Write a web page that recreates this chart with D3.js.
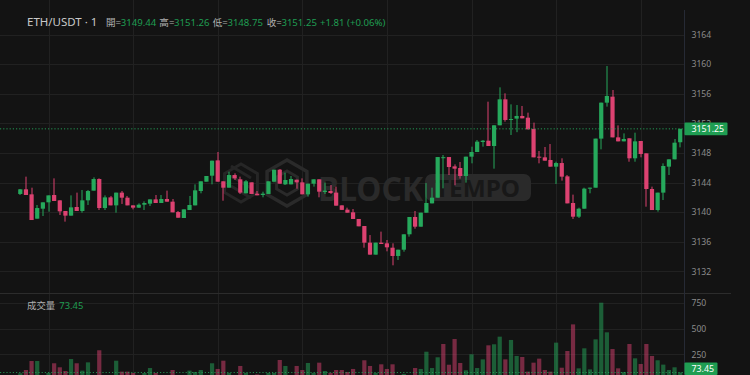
<!DOCTYPE html>
<html>
<head>
<meta charset="utf-8">
<script src="https://cdn.jsdelivr.net/npm/d3@7"></script>
<style>
html, body { margin: 0; padding: 0; background: #131313; }
svg { display: block; font-family: "Noto Sans", "Noto Sans CJK TC", sans-serif; }
</style>
</head>
<body>
<div id="chart"></div>
<script>
"use strict";

// ETH/USDT 1 minute candles
var opens  = [3142.45,3143.08,3142.40,3139.11,3140.46,3141.32,3142.31,3141.59,3140.15,3139.52,
              3140.69,3140.15,3141.59,3142.90,3144.47,3140.55,3141.99,3140.91,3142.63,3141.95,
              3140.91,3140.60,3141.00,3141.14,3141.72,3141.23,3141.77,3141.41,3140.01,3139.20,
              3140.28,3140.91,3142.85,3144.11,3144.92,3146.99,3144.16,3143.30,3145.01,3144.43,
              3142.54,3144.02,3142.49,3142.31,3142.45,3144.11,3145.73,3143.75,3143.75,3144.38,
              3144.02,3142.40,3143.84,3144.43,3142.72,3142.85,3142.63,3140.91,3140.33,3139.97,
              3139.07,3138.12,3135.87,3134.25,3135.87,3135.78,3135.19,3134.07,3134.92,3137.00,
              3139.34,3138.03,3139.92,3141.18,3141.95,3147.36,3147.44,3146.18,3145.96,3144.88,
              3147.49,3148.12,3149.47,3149.65,3148.93,3151.73,3155.24,3152.45,3152.63,3152.99,
              3152.76,3151.23,3147.49,3147.40,3147.04,3146.14,3146.63,3144.83,3141.23,3139.38,
              3140.46,3143.17,3143.30,3149.93,3154.79,3155.60,3150.10,3149.56,3149.97,3147.27,
              3149.61,3147.94,3143.12,3140.28,3142.63,3146.14,3147.13,3149.44];
var highs  = [3143.12,3144.79,3143.30,3140.96,3141.32,3142.26,3144.56,3141.59,3140.15,3142.26,
              3142.63,3142.99,3142.99,3144.70,3144.56,3142.26,3142.18,3142.63,3142.85,3142.18,
              3140.91,3141.18,3141.45,3141.72,3142.31,3142.31,3142.90,3141.77,3140.15,3140.37,
              3142.18,3143.75,3144.16,3144.88,3146.95,3148.12,3144.16,3145.46,3145.24,3144.79,
              3144.34,3144.02,3142.85,3142.76,3144.16,3145.73,3145.82,3145.33,3144.88,3144.38,
              3144.56,3143.84,3144.43,3144.43,3143.98,3143.66,3143.44,3140.91,3140.60,3140.42,
              3139.07,3138.12,3136.90,3135.87,3137.36,3136.23,3135.78,3134.92,3137.00,3139.34,
              3140.15,3139.92,3143.93,3143.30,3147.44,3147.72,3147.44,3146.45,3146.77,3147.49,
              3148.84,3149.74,3149.74,3154.92,3151.73,3156.86,3156.05,3154.56,3154.47,3154.34,
              3153.44,3152.09,3148.26,3148.80,3149.20,3146.81,3147.27,3145.01,3142.36,3140.60,
              3143.30,3143.30,3149.93,3154.79,3159.74,3156.50,3151.72,3150.64,3149.97,3150.73,
              3149.61,3147.94,3143.44,3142.63,3146.59,3147.13,3149.88,3151.26];
var lows   = [3142.31,3142.31,3138.93,3139.11,3139.47,3140.06,3141.50,3139.61,3138.71,3139.52,
              3140.15,3139.92,3140.96,3142.90,3140.28,3140.28,3140.91,3139.92,3141.10,3140.91,
              3140.37,3140.55,3140.28,3140.82,3141.23,3141.23,3141.41,3139.97,3139.24,3139.20,
              3140.28,3140.91,3142.54,3144.11,3143.75,3144.11,3141.54,3143.30,3144.34,3142.45,
              3142.54,3142.45,3142.27,3142.00,3142.45,3144.02,3143.84,3143.66,3143.75,3143.16,
              3142.40,3142.09,3143.44,3142.00,3142.45,3142.45,3140.87,3140.28,3139.92,3139.07,
              3138.08,3135.19,3134.25,3134.25,3135.69,3134.70,3132.81,3133.53,3134.65,3136.68,
              3137.76,3138.03,3139.92,3141.18,3141.95,3143.21,3145.01,3143.62,3144.52,3143.98,
              3146.59,3148.12,3148.84,3148.93,3145.87,3151.73,3152.22,3150.42,3150.80,3152.67,
              3151.18,3147.40,3146.59,3146.95,3146.14,3143.80,3144.25,3141.18,3139.07,3139.20,
              3140.46,3142.54,3143.30,3148.48,3154.25,3150.10,3149.56,3149.56,3146.81,3146.81,
              3147.40,3140.73,3140.28,3140.06,3141.63,3145.01,3147.13,3148.75];
var closes = [3143.08,3142.31,3138.93,3140.55,3141.32,3142.26,3141.50,3140.10,3139.52,3140.64,
              3140.15,3141.59,3142.85,3144.47,3140.55,3141.99,3140.91,3142.63,3141.95,3140.91,
              3140.60,3141.00,3141.23,3141.72,3141.23,3141.77,3141.41,3139.97,3139.24,3140.37,
              3140.96,3142.94,3144.16,3144.88,3146.95,3144.11,3143.30,3145.01,3144.56,3142.63,
              3144.16,3142.45,3142.27,3142.49,3144.16,3145.73,3143.84,3144.34,3144.47,3144.02,
              3142.40,3143.84,3144.43,3142.76,3142.90,3142.58,3140.87,3140.30,3139.92,3139.07,
              3138.08,3135.87,3134.25,3135.87,3135.69,3135.24,3134.07,3134.92,3137.00,3139.34,
              3138.03,3139.92,3141.23,3141.95,3147.44,3147.42,3146.09,3145.87,3144.88,3147.49,
              3148.12,3149.52,3149.65,3148.93,3151.73,3155.24,3152.45,3152.58,3152.99,3152.67,
              3151.18,3147.40,3147.36,3146.95,3146.14,3146.63,3144.79,3141.18,3139.38,3140.46,
              3143.17,3143.30,3149.93,3154.79,3155.69,3150.10,3149.56,3149.88,3147.27,3149.56,
              3147.85,3143.12,3140.28,3142.63,3146.23,3147.13,3149.38,3151.25];
var volumes = [66,98,185,185,35,70,163,124,88,204,
               163,92,172,35,289,30,40,188,82,82,
               69,40,69,117,69,40,35,98,45,40,
               92,79,98,40,163,108,188,70,40,137,
               70,40,55,45,70,70,195,137,40,137,
               98,166,70,169,88,70,98,98,79,108,
               40,192,137,70,153,108,153,40,60,40,
               117,108,275,117,221,350,149,398,166,95,
               250,117,201,337,347,421,201,389,234,224,
               82,169,208,98,82,363,120,282,540,114,
               308,104,395,750,463,301,114,78,350,211,
               156,350,234,192,150,98,124,73.45];

var priceTicks  = [3132, 3136, 3140, 3144, 3148, 3152, 3156, 3160, 3164];
var volumeTicks = [250, 500, 750];
var ohlcLabels  = ["開", "高", "低", "收"];
var symbolLabel = "ETH/USDT · 1";
var volumeLabel = "成交量";

var W = 750, H = 375;
var axisX = 684.5;
var paneSplit = 293.5;
var UP = "#26a95c", DOWN = "#dc4271", GRID = "#212121", TXT = "#8b8b8b";

var n = closes.length;
var candles = d3.range(n).map(function(i) {
  return { i: i, o: opens[i], h: highs[i], l: lows[i], c: closes[i], v: volumes[i],
           up: closes[i] >= opens[i],
           volUp: i === 0 ? closes[i] >= opens[i] : closes[i] >= closes[i-1] };
});
var last = candles[n-1];

var svg = d3.select("#chart").append("svg")
  .attr("width", W).attr("height", H);

svg.append("rect").attr("width", W).attr("height", H).attr("fill", "#131313");

// scales
var x = d3.scaleLinear().domain([0, n-1]).range([20.3, 680.2]);
var y = d3.scaleLinear().domain([3132, 3164]).range([271.3, 34.5]);
var yv = d3.scaleLinear().domain([0, 750]).range([380.1, 302.7]);
var bodyW = 4.2;
var crisp = function(v) { return Math.round(v) + 0.5; };

// grid
var grid = svg.append("g");
grid.selectAll("line.h").data(priceTicks).enter().append("line")
  .attr("x1", 0).attr("x2", axisX)
  .attr("y1", function(d) { return crisp(y(d)); })
  .attr("y2", function(d) { return crisp(y(d)); })
  .attr("stroke", GRID);
grid.selectAll("line.vh").data(volumeTicks).enter().append("line")
  .attr("x1", 0).attr("x2", axisX)
  .attr("y1", function(d) { return crisp(yv(d)); })
  .attr("y2", function(d) { return crisp(yv(d)); })
  .attr("stroke", GRID);
// a vertical line every 15 minutes
grid.selectAll("line.v").data(d3.range(5, n, 15)).enter().append("line")
  .attr("x1", function(d) { return crisp(x(d)); })
  .attr("x2", function(d) { return crisp(x(d)); })
  .attr("y1", 0).attr("y2", H)
  .attr("stroke", GRID);

// watermark
var wm = svg.append("g").attr("fill", "#2a2a2a");
var hex = function(cx, cy, r) {
  return d3.range(6).map(function(k) {
    var a = Math.PI / 3 * k + Math.PI / 6;
    return [cx + r * Math.cos(a), cy + r * Math.sin(a)];
  });
};
var hexLine = d3.line().curve(d3.curveLinearClosed);
wm.append("path").attr("d", hexLine(hex(287, 183, 23)))
  .attr("fill", "none").attr("stroke", "#2a2a2a").attr("stroke-width", 3.5);
wm.append("path").attr("d", hexLine(hex(287, 183, 12)))
  .attr("fill", "none").attr("stroke", "#2a2a2a").attr("stroke-width", 3);
wm.append("path").attr("d", hexLine(hex(241, 183, 19)))
  .attr("fill", "none").attr("stroke", "#262626").attr("stroke-width", 3);
wm.append("path").attr("d", "M231,176 L251,188 M231,186 L251,198 M231,166 L251,178")
  .attr("fill", "none").attr("stroke", "#262626").attr("stroke-width", 3);
wm.append("text").attr("x", 318).attr("y", 200.5)
  .attr("font-size", 34).attr("font-weight", 700)
  .attr("textLength", 105).attr("lengthAdjust", "spacingAndGlyphs")
  .text("BLOCK");
wm.append("rect").attr("x", 425).attr("y", 174).attr("width", 106).attr("height", 27)
  .attr("rx", 7);
wm.append("text").attr("x", 435).attr("y", 196.8)
  .attr("font-size", 24).attr("font-weight", 700).attr("fill", "#181818")
  .attr("textLength", 85).attr("lengthAdjust", "spacingAndGlyphs")
  .text("TEMPO");

// volume bars
svg.append("clipPath").attr("id", "volclip").append("rect")
  .attr("x", 0).attr("y", paneSplit + 0.5).attr("width", axisX).attr("height", H - paneSplit);
svg.append("g").attr("clip-path", "url(#volclip)")
  .selectAll("rect").data(candles).enter().append("rect")
  .attr("x", function(d) { return x(d.i) - bodyW / 2; })
  .attr("width", bodyW)
  .attr("y", function(d) { return yv(d.v); })
  .attr("height", function(d) { return yv(0) - yv(d.v); })
  .attr("fill", function(d) { return d.volUp ? UP : DOWN; })
  .attr("fill-opacity", 0.5);

// candles
var cg = svg.append("g").selectAll("g").data(candles).enter().append("g")
  .attr("fill", function(d) { return d.up ? UP : DOWN; })
  .attr("stroke", function(d) { return d.up ? UP : DOWN; });
cg.append("line")
  .attr("x1", function(d) { return crisp(x(d.i)) - 0.5; })
  .attr("x2", function(d) { return crisp(x(d.i)) - 0.5; })
  .attr("y1", function(d) { return y(d.h); })
  .attr("y2", function(d) { return y(d.l); })
  .attr("stroke-width", 1);
cg.append("rect")
  .attr("stroke", "none")
  .attr("x", function(d) { return x(d.i) - bodyW / 2; })
  .attr("width", bodyW)
  .attr("y", function(d) { return y(Math.max(d.o, d.c)); })
  .attr("height", function(d) { return Math.max(1, Math.abs(y(d.o) - y(d.c))); });

// last price and last volume lines
svg.append("line").attr("x1", 0).attr("x2", axisX)
  .attr("y1", y(last.c)).attr("y2", y(last.c))
  .attr("stroke", UP).attr("stroke-dasharray", "1.2,2").attr("stroke-opacity", 0.9);
svg.append("line").attr("x1", 0).attr("x2", axisX)
  .attr("y1", yv(last.v)).attr("y2", yv(last.v))
  .attr("stroke", UP).attr("stroke-dasharray", "1.2,2").attr("stroke-opacity", 0.8);

// pane separator and right axis
svg.append("line").attr("x1", 0).attr("x2", 731)
  .attr("y1", paneSplit).attr("y2", paneSplit)
  .attr("stroke", "#2c2c2c");
svg.append("line").attr("x1", axisX).attr("x2", axisX)
  .attr("y1", 10).attr("y2", H)
  .attr("stroke", "#262a35");

var axP = svg.append("g")
  .attr("transform", "translate(" + axisX + ",0)")
  .call(d3.axisRight(y).tickValues(priceTicks).tickSize(0).tickPadding(7).tickFormat(d3.format("d")));
var axV = svg.append("g")
  .attr("transform", "translate(" + axisX + ",0)")
  .call(d3.axisRight(yv).tickValues(volumeTicks).tickSize(0).tickPadding(7).tickFormat(d3.format("d")));
[axP, axV].forEach(function(a) {
  a.select(".domain").remove();
  a.selectAll("text").attr("fill", TXT).attr("font-size", 8.6)
    .attr("font-family", "'Noto Sans', sans-serif");
});

// last value tags on the axis
var tag = function(val, yy, w, txt) {
  var g = svg.append("g");
  g.append("rect").attr("x", axisX).attr("y", yy - 6.3).attr("width", w).attr("height", 12.6)
    .attr("rx", 1).attr("fill", "#1f9d52");
  g.append("text").attr("x", axisX + 7).attr("y", yy).attr("dy", "0.35em")
    .attr("font-size", 8.8).attr("fill", "#ffffff").text(txt);
};
tag(last.c, y(last.c), 43, d3.format(".2f")(last.c));
tag(last.v, Math.min(yv(last.v), H - 6.3), 33, d3.format(".2f")(last.v));

// header
var head = svg.append("g");
head.append("text").attr("x", 27).attr("y", 25.5)
  .attr("font-size", 11.5).attr("fill", "#c9c9c9").text(symbolLabel);
var ohlc = [last.o, last.h, last.l, last.c];
var labelX = [106, 159.3, 212.7, 266.7];
ohlcLabels.forEach(function(lb, k) {
  var t = head.append("text").attr("x", labelX[k]).attr("y", 25.5).attr("font-size", 9.6);
  t.append("tspan").attr("fill", "#b0b0b0").text(lb + "=");
  t.append("tspan").attr("x", labelX[k] + 14.7).attr("fill", "#1f9d52").text(d3.format(".2f")(ohlc[k]));
});
var chg = last.c - last.o;
head.append("text").attr("x", 320).attr("y", 25.5).attr("font-size", 9.6).attr("fill", "#1f9d52")
  .text((chg >= 0 ? "+" : "") + d3.format(".2f")(chg) + " (" + (chg >= 0 ? "+" : "") + d3.format(".2f")(chg / last.o * 100) + "%)");

// volume pane title
var vt = svg.append("text").attr("x", 27).attr("y", 309.3).attr("font-size", 9.4);
vt.append("tspan").attr("fill", "#b0b0b0").text(volumeLabel);
vt.append("tspan").attr("x", 59.3).attr("fill", "#1f9d52").text(d3.format(".2f")(last.v));
</script>
</body>
</html>
